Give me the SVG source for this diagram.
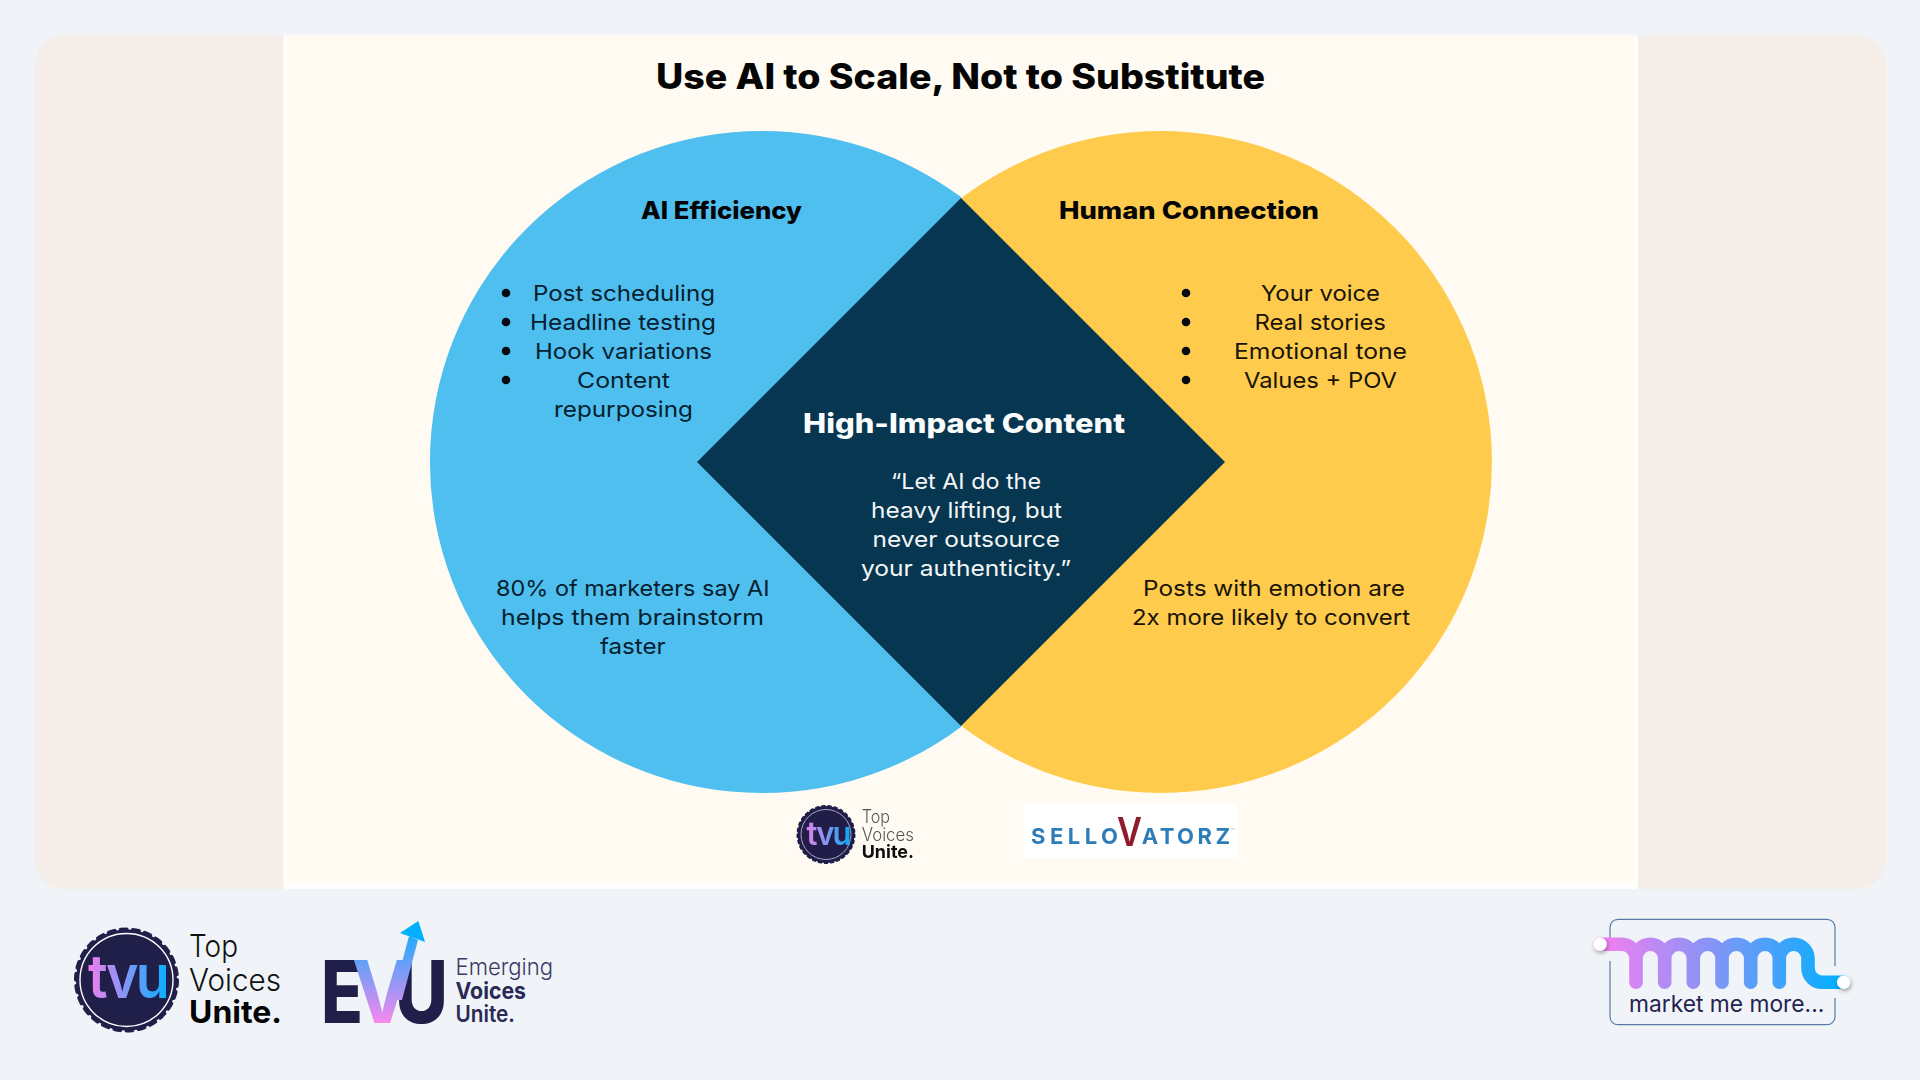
<svg xmlns="http://www.w3.org/2000/svg" width="1920" height="1080" viewBox="0 0 1920 1080">
<style>
text{font-family:"Inter","Liberation Sans",sans-serif}
.t{font-size:22px;fill:#06202e;font-weight:400}
.d{fill:#1a1408}
.w{fill:#f4f6f7}
.h{font-size:24px;font-weight:800;fill:#050505}
.nv{fill:#201f4a}
.lt{font-weight:300}
.dot{fill:#050a10}
</style>
<defs>
<linearGradient id="gb" gradientUnits="userSpaceOnUse" x1="1600" y1="0" x2="1843" y2="0"><stop offset="0" stop-color="#f67ef0"/><stop offset="1" stop-color="#00b0ff"/></linearGradient>
<linearGradient id="gt" gradientUnits="userSpaceOnUse" x1="89" y1="0" x2="167" y2="0"><stop offset="0" stop-color="#f080ee"/><stop offset="1" stop-color="#08aeff"/></linearGradient>
<linearGradient id="gs" gradientUnits="userSpaceOnUse" x1="807" y1="0" x2="849" y2="0"><stop offset="0" stop-color="#e085ea"/><stop offset="1" stop-color="#10a8f5"/></linearGradient>
<linearGradient id="gv" gradientUnits="userSpaceOnUse" x1="0" y1="1023" x2="0" y2="921"><stop offset="0" stop-color="#f788ee"/><stop offset="1" stop-color="#00b0ff"/></linearGradient>
<filter id="sh" x="-80%" y="-80%" width="260%" height="260%"><feDropShadow dx="1" dy="2" stdDeviation="2" flood-color="#000" flood-opacity=".35"/></filter>
<filter id="bl" x="-5%" y="-5%" width="110%" height="110%"><feGaussianBlur stdDeviation=".6"/></filter>
</defs>
<rect width="1920" height="1080" fill="#f0f4f8"/>
<rect id="panel" x="34.5" y="35.5" width="1852" height="853.5" rx="30" fill="#f5eee8"/>
<rect id="slide-edge" x="283.5" y="35.5" width="1354.5" height="853.5" fill="#fffefc"/>
<rect id="slide" x="287" y="35.5" width="1347" height="847.5" fill="#fffbf3"/>

<g id="title"><text x="656" y="88.5" textLength="609" lengthAdjust="spacingAndGlyphs" font-size="35" font-weight="800" fill="#050505">Use AI to Scale, Not to Substitute</text></g>

<g id="venn">
<path id="circle-ai" d="M961,197.1 A332,331 0 1 0 961,726.9 Z" fill="#4fbff0"/>
<path id="circle-human" d="M961,198.2 A331,331 0 1 1 961,725.8 Z" fill="#fecb4d"/>
<polygon id="diamond" points="961,198 1225,462 961,726 697,462" fill="#073650"/>
</g>

<g id="ai-efficiency">
<text class="h" x="641" y="218.7" textLength="161" lengthAdjust="spacingAndGlyphs">AI Efficiency</text>
<circle class="dot" cx="506" cy="293" r="4.3"/><circle class="dot" cx="506" cy="322" r="4.3"/><circle class="dot" cx="506" cy="351" r="4.3"/><circle class="dot" cx="506" cy="380" r="4.3"/>
<text class="t" x="533" y="301" textLength="182" lengthAdjust="spacingAndGlyphs">Post scheduling</text>
<text class="t" x="530" y="330" textLength="186" lengthAdjust="spacingAndGlyphs">Headline testing</text>
<text class="t" x="535" y="359" textLength="177" lengthAdjust="spacingAndGlyphs">Hook variations</text>
<text class="t" x="577" y="388" textLength="93" lengthAdjust="spacingAndGlyphs">Content</text>
<text class="t" x="554" y="417" textLength="139" lengthAdjust="spacingAndGlyphs">repurposing</text>
<text class="t" x="496" y="595.7" textLength="273.5" lengthAdjust="spacingAndGlyphs">80% of marketers say AI</text>
<text class="t" x="501" y="625" textLength="263" lengthAdjust="spacingAndGlyphs">helps them brainstorm</text>
<text class="t" x="600" y="653.7" textLength="65.6" lengthAdjust="spacingAndGlyphs">faster</text>
</g>

<g id="human-connection">
<text class="h" x="1059" y="218.7" textLength="260" lengthAdjust="spacingAndGlyphs">Human Connection</text>
<circle class="dot" cx="1186" cy="293" r="4.3"/><circle class="dot" cx="1186" cy="322" r="4.3"/><circle class="dot" cx="1186" cy="351" r="4.3"/><circle class="dot" cx="1186" cy="380" r="4.3"/>
<text class="t d" x="1261" y="301" textLength="119" lengthAdjust="spacingAndGlyphs">Your voice</text>
<text class="t d" x="1254.5" y="330" textLength="131.5" lengthAdjust="spacingAndGlyphs">Real stories</text>
<text class="t d" x="1234" y="359" textLength="173" lengthAdjust="spacingAndGlyphs">Emotional tone</text>
<text class="t d" x="1244" y="388" textLength="153" lengthAdjust="spacingAndGlyphs">Values + POV</text>
<text class="t d" x="1143" y="595.7" textLength="262" lengthAdjust="spacingAndGlyphs">Posts with emotion are</text>
<text class="t d" x="1132" y="625" textLength="278" lengthAdjust="spacingAndGlyphs">2x more likely to convert</text>
</g>

<g id="high-impact">
<text x="803" y="432.7" textLength="322" lengthAdjust="spacingAndGlyphs" font-size="27" font-weight="800" fill="#fbfcfc">High-Impact Content</text>
<text class="t w" x="891" y="489" textLength="150" lengthAdjust="spacingAndGlyphs">“Let AI do the</text>
<text class="t w" x="871" y="517.7" textLength="191" lengthAdjust="spacingAndGlyphs">heavy lifting, but</text>
<text class="t w" x="872.6" y="546.7" textLength="187.4" lengthAdjust="spacingAndGlyphs">never outsource</text>
<text class="t w" x="861" y="575.7" textLength="210" lengthAdjust="spacingAndGlyphs">your authenticity.”</text>
</g>

<g id="slide-logo-tvu" filter="url(#bl)">
<circle cx="826" cy="834.5" r="28.5" class="nv"/>
<circle cx="826" cy="834.5" r="28.5" fill="none" stroke="#201f4a" stroke-width="2" stroke-linecap="round" stroke-dasharray="2.6 3.6"/>
<circle cx="826" cy="834.5" r="25" fill="none" stroke="#a7a6c4" stroke-width="1"/>
<text x="806.5" y="845" textLength="43" lengthAdjust="spacingAndGlyphs" font-size="32" font-weight="600" letter-spacing="-2" fill="url(#gs)">tvu</text>
<text x="861.7" y="823" textLength="28.3" lengthAdjust="spacingAndGlyphs" font-size="18" class="lt" fill="#555">Top</text>
<text x="861.7" y="840.7" textLength="52.3" lengthAdjust="spacingAndGlyphs" font-size="18" class="lt" fill="#555">Voices</text>
<text x="861.7" y="858.3" textLength="52.3" lengthAdjust="spacingAndGlyphs" font-size="18" font-weight="700" fill="#111">Unite.</text>
</g>

<g id="slide-logo-sellovatorz">
<rect x="1023.3" y="804" width="213.7" height="54.3" fill="#fff"/>
<g filter="url(#bl)">
<text x="1031" y="844" textLength="87" lengthAdjust="spacing" font-size="22" font-weight="700" fill="#2e7db8">SELLO</text>
<text x="1117" y="846" textLength="25" lengthAdjust="spacingAndGlyphs" font-size="40" font-weight="600" fill="#8f1d2c">V</text>
<text x="1141.7" y="844" textLength="88.3" lengthAdjust="spacing" font-size="22" font-weight="700" fill="#2e7db8">ATORZ</text>
<text x="1231" y="833" font-size="6" fill="#999">™</text>
</g>
</g>

<g id="logo-tvu">
<circle cx="126.5" cy="980" r="50.5" class="nv"/>
<circle cx="126.5" cy="980" r="50.5" fill="none" stroke="#201f4a" stroke-width="4" stroke-linecap="round" stroke-dasharray="6 6.2"/>
<circle cx="126.5" cy="980" r="46.5" fill="none" stroke="#fff" stroke-width="1.4"/>
<text x="88" y="998" textLength="79" lengthAdjust="spacingAndGlyphs" font-size="60" font-weight="600" letter-spacing="-3" fill="url(#gt)">tvu</text>
<text x="189" y="957" textLength="49" lengthAdjust="spacingAndGlyphs" font-size="31" class="lt" fill="#111">Top</text>
<text x="189" y="990.7" textLength="92" lengthAdjust="spacingAndGlyphs" font-size="31" class="lt" fill="#111">Voices</text>
<text x="189" y="1023" textLength="93" lengthAdjust="spacingAndGlyphs" font-size="31" font-weight="700" fill="#050505">Unite.</text>
</g>

<g id="logo-evu">
<text class="nv" x="321" y="1022.7" textLength="42" lengthAdjust="spacingAndGlyphs" font-size="86" font-weight="800">E</text>
<text class="nv" x="395" y="1022.7" textLength="53" lengthAdjust="spacingAndGlyphs" font-size="86" font-weight="800">U</text>
<text x="352" y="1022.7" textLength="60" lengthAdjust="spacingAndGlyphs" font-size="86" font-weight="700" fill="url(#gv)">V</text>
<polygon points="392,1000 409,936 418,940 402,1000" fill="url(#gv)"/>
<polygon points="418.4,921 425,942 400,933" fill="#00b0ff"/>
<text x="455.5" y="975" textLength="97.5" lengthAdjust="spacingAndGlyphs" font-size="23" class="lt" fill="#3b3a66">Emerging</text>
<text x="455.5" y="999" textLength="70.5" lengthAdjust="spacingAndGlyphs" font-size="23" font-weight="700" fill="#2b2a56">Voices</text>
<text x="455.5" y="1021.7" textLength="59.5" lengthAdjust="spacingAndGlyphs" font-size="23" font-weight="600" fill="#2b2a56">Unite.</text>
</g>

<g id="logo-mmm">
<path d="M1610,961 V1016.7 A8,8 0 0 0 1618,1024.7 H1827 A8,8 0 0 0 1835,1016.7 V998 M1835,966 V927.3 A8,8 0 0 0 1827,919.3 H1618 A8,8 0 0 0 1610,927.3 V938" fill="none" stroke="#5a7aa8" stroke-width="1.2"/>
<path d="M1600,944.3 H1621.7 A14.33,14.33 0 0 1 1636,958.6 V982.3 V958.6 A14.33,14.33 0 0 1 1650.3,944.3 A14.33,14.33 0 0 1 1664.7,958.6 V982.3 V958.6 A14.33,14.33 0 0 1 1679,944.3 A14.33,14.33 0 0 1 1693.3,958.6 V982.3 V958.6 A14.33,14.33 0 0 1 1707.7,944.3 A14.33,14.33 0 0 1 1722,958.6 V982.3 V958.6 A14.33,14.33 0 0 1 1736.3,944.3 A14.33,14.33 0 0 1 1750.7,958.6 V982.3 V958.6 A14.33,14.33 0 0 1 1765,944.3 A14.33,14.33 0 0 1 1779.3,958.6 V982.3 V958.6 A14.33,14.33 0 0 1 1793.7,944.3 A14.33,14.33 0 0 1 1808,958.6 V968 A14.33,14.33 0 0 0 1822.3,982.3 H1843.5" fill="none" stroke="url(#gb)" stroke-width="13.6" stroke-linecap="round" stroke-linejoin="round"/>
<circle cx="1600" cy="944.3" r="6.7" fill="#fff" filter="url(#sh)"/>
<circle cx="1843.7" cy="982.3" r="6.7" fill="#fff" filter="url(#sh)"/>
<text x="1629" y="1011.7" textLength="195.3" lengthAdjust="spacingAndGlyphs" font-size="23" fill="#24234f">market me more...</text>
</g>
</svg>
